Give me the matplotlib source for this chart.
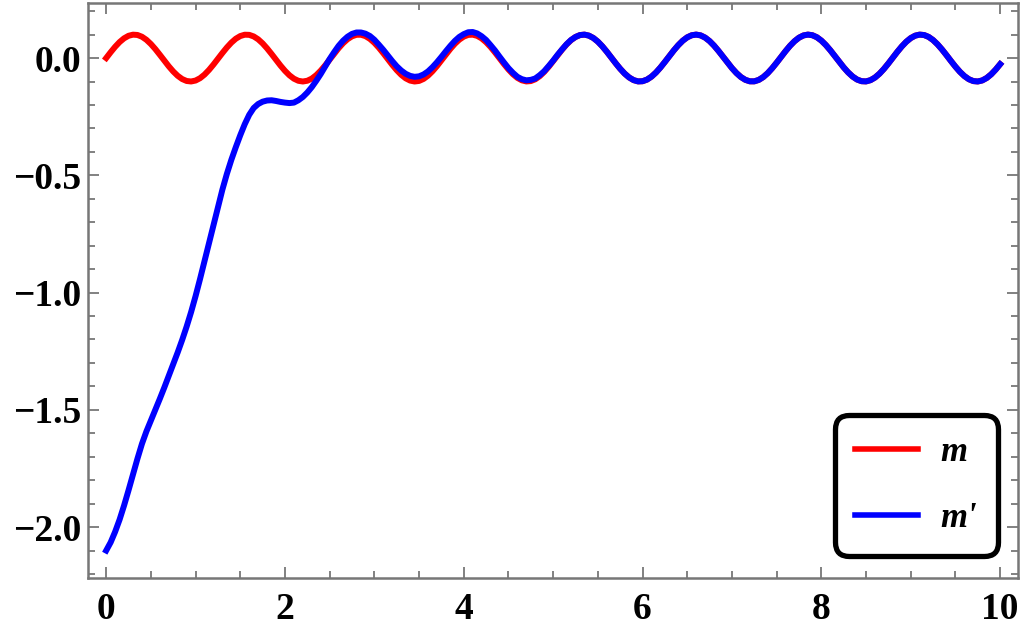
import numpy as np
import matplotlib
matplotlib.use("Agg")
import matplotlib.pyplot as plt
from matplotlib.ticker import MultipleLocator

# sample times (step 0.05)
t_values = np.round(np.arange(201) * 0.05, 2)

# m (red)
m_values = [
    0.0000, 0.0247, 0.0479, 0.0682, 0.0841, 0.0949, 0.0997, 0.0984, 0.0909, 0.0778,
    0.0598, 0.0382, 0.0141, -0.0108, -0.0351, -0.0572, -0.0757, -0.0895, -0.0978, -0.0999,
    -0.0959, -0.0859, -0.0706, -0.0508, -0.0279, -0.0033, 0.0215, 0.0450, 0.0657, 0.0824,
    0.0938, 0.0995, 0.0989, 0.0922, 0.0799, 0.0625, 0.0412, 0.0174, -0.0075, -0.0320,
    -0.0544, -0.0735, -0.0880, -0.0970, -0.1000, -0.0968, -0.0876, -0.0729, -0.0537, -0.0311,
    -0.0066, 0.0183, 0.0420, 0.0632, 0.0804, 0.0926, 0.0991, 0.0994, 0.0935, 0.0818,
    0.0650, 0.0442, 0.0207, -0.0042, -0.0288, -0.0516, -0.0712, -0.0864, -0.0961, -0.1000,
    -0.0976, -0.0891, -0.0751, -0.0564, -0.0343, -0.0099, 0.0150, 0.0390, 0.0606, 0.0784,
    0.0913, 0.0986, 0.0997, 0.0946, 0.0837, 0.0675, 0.0472, 0.0239, -0.0009, -0.0256,
    -0.0487, -0.0688, -0.0846, -0.0951, -0.0998, -0.0982, -0.0906, -0.0773, -0.0591, -0.0374,
    -0.0132, 0.0117, 0.0359, 0.0579, 0.0763, 0.0899, 0.0980, 0.0999, 0.0956, 0.0854,
    0.0700, 0.0501, 0.0271, 0.0024, -0.0224, -0.0458, -0.0664, -0.0828, -0.0941, -0.0996,
    -0.0988, -0.0919, -0.0793, -0.0618, -0.0404, -0.0165, 0.0084, 0.0328, 0.0551, 0.0741,
    0.0884, 0.0972, 0.1000, 0.0966, 0.0871, 0.0723, 0.0529, 0.0303, 0.0058, -0.0191,
    -0.0428, -0.0638, -0.0809, -0.0929, -0.0992, -0.0993, -0.0932, -0.0813, -0.0644, -0.0434,
    -0.0198, 0.0051, 0.0296, 0.0524, 0.0718, 0.0868, 0.0964, 0.1000, 0.0973, 0.0887,
    0.0745, 0.0557, 0.0334, 0.0091, -0.0159, -0.0398, -0.0612, -0.0789, -0.0917, -0.0987,
    -0.0996, -0.0943, -0.0832, -0.0669, -0.0464, -0.0230, 0.0018, 0.0265, 0.0495, 0.0695,
    0.0851, 0.0955, 0.0999, 0.0981, 0.0902, 0.0767, 0.0584, 0.0365, 0.0124, -0.0126,
    -0.0367, -0.0586, -0.0768, -0.0903, -0.0982, -0.0999, -0.0954, -0.0850, -0.0694, -0.0493,
    -0.0262,
]

m_prime_head = [
    -2.100, -2.065, -2.020, -1.968, -1.908, -1.843, -1.776, -1.708, -1.645, -1.592,
    -1.546, -1.499, -1.453, -1.405, -1.355, -1.306, -1.255, -1.202, -1.145, -1.083,
    -1.015, -0.942, -0.866, -0.790, -0.714, -0.637, -0.561, -0.494, -0.434, -0.380,
    -0.329, -0.282, -0.242, -0.213, -0.196, -0.186, -0.181, -0.180, -0.183, -0.187,
    -0.190, -0.192, -0.190, -0.180, -0.166, -0.147, -0.124, -0.097, -0.068, -0.036,
    -0.004, 0.025, 0.052, 0.074, 0.091, 0.103, 0.109, 0.109, 0.104, 0.094,
    0.078, 0.057, 0.035, 0.011, -0.013, -0.035, -0.053, -0.067, -0.076, -0.080,
    -0.078, -0.070, -0.057, -0.039, -0.018, 0.005, 0.029, 0.052, 0.073, 0.090,
    0.102, 0.110, 0.111, 0.105, 0.093, 0.077, 0.055, 0.032, 0.006, -0.019,
    -0.043, -0.063, -0.080, -0.090, -0.095, -0.093, -0.087, -0.073, -0.056, -0.034,
    -0.011, 0.014, 0.037, 0.059, 0.077,
]
m_prime_values = m_prime_head + m_values[len(m_prime_head):]

x_ticks = [0, 2, 4, 6, 8, 10]
y_ticks = [0.0, -0.5, -1.0, -1.5, -2.0]

serif = "Liberation Serif"
frame_col = "#777777"

fig = plt.figure(figsize=(10.24, 6.27), dpi=100)
ax = fig.add_axes([88.3 / 1024, 1 - 578 / 627, (1018 - 88.3) / 1024, (578 - 2.7) / 627])

ax.plot(t_values, m_values, color="#ff0000", lw=4.3, label="m")
ax.plot(t_values, m_prime_values, color="#0000ff", lw=4.3, label="m'")

ax.set_xlim(-0.2, 10.2)
ax.set_ylim(-2.217, 0.236)
ax.set_xticks(x_ticks)
ax.set_yticks(y_ticks)
ax.set_xticklabels([str(v) for v in x_ticks])
ax.set_yticklabels(["%.1f" % v if v == 0 else "\u2212%.1f" % abs(v) for v in y_ticks])
ax.xaxis.set_minor_locator(MultipleLocator(0.5))
ax.yaxis.set_minor_locator(MultipleLocator(0.1))

for sp in ax.spines.values():
    sp.set_color(frame_col)
    sp.set_linewidth(1.8)

ax.tick_params(which="both", direction="in", top=True, right=True, color=frame_col, width=1.3)
ax.tick_params(which="major", length=8)
ax.tick_params(which="minor", length=5)
ax.tick_params(axis="y", which="major", pad=5)
ax.tick_params(axis="x", which="major", pad=10)
for lab in ax.get_xticklabels() + ax.get_yticklabels():
    lab.set_fontfamily(serif)
    lab.set_fontweight("bold")
    lab.set_fontsize(27)

leg = ax.legend(
    loc="lower right",
    bbox_to_anchor=(998 / 1024, 1 - 556 / 627),
    bbox_transform=fig.transFigure,
    borderaxespad=0,
    prop={"family": serif, "style": "italic", "weight": "bold", "size": 25},
    handlelength=1.8,
    handletextpad=0.65,
    labelspacing=0.95,
    borderpad=0.6,
    frameon=True,
    fancybox=True,
    framealpha=1,
)
frame = leg.get_frame()
frame.set_edgecolor("black")
frame.set_linewidth(3.8)
frame.set_boxstyle("round", pad=0, rounding_size=0.4)
for line in leg.get_lines():
    line.set_linewidth(4)

fig.savefig("out.png", dpi=100)
